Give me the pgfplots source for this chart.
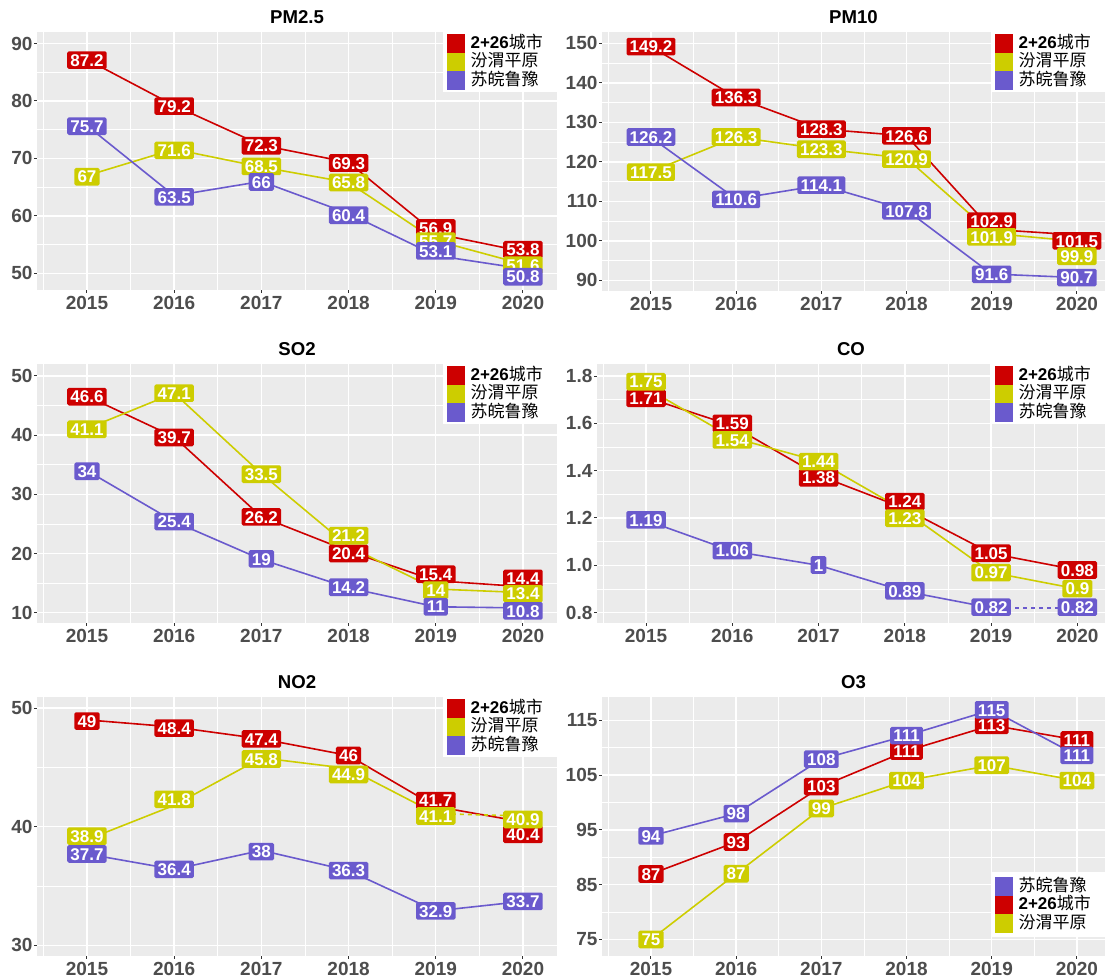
\documentclass[border=0pt]{standalone}
\usepackage{pgfplots}
\pgfplotsset{compat=1.18}
\usepackage{pgfplotstable}
\usepackage{fontspec}
\setmainfont{Liberation Sans}
\newfontfamily\cjk{Noto Sans CJK SC}
\definecolor{red3}{HTML}{CD0000}
\definecolor{yellow3}{HTML}{CDCD00}
\definecolor{slate}{HTML}{6A5ACD}
\definecolor{bg}{HTML}{EBEBEB}
\definecolor{tickgray}{HTML}{4D4D4D}
\definecolor{gray20}{HTML}{333333}

% columns: x (0=2015 ... 5=2020), y = value, ly = label position, lab = label text
\pgfplotstableread{
x y ly lab
0 87.2 87.1 87.2
1 79.2 79.1 79.2
2 72.3 72.2 72.3
3 69.3 69.2 69.3
4 56.9 57.9 56.9
5 53.8 54.1 53.8
}\pmR
\pgfplotstableread{
x y ly lab
0 67.0 66.8 67
1 71.6 71.4 71.6
2 68.5 68.6 68.5
3 65.8 65.8 65.8
4 55.7 55.6 55.7
5 51.6 51.4 51.6
}\pmY
\pgfplotstableread{
x y ly lab
0 75.7 75.6 75.7
1 63.5 63.3 63.5
2 66.0 65.9 66
3 60.4 60.1 60.4
4 53.1 53.9 53.1
5 50.8 49.4 50.8
}\pmP

\pgfplotstableread{
x y ly lab
0 149.2 149.2 149.2
1 136.3 136.3 136.3
2 128.3 128.3 128.3
3 126.6 126.6 126.6
4 102.9 105.0 102.9
5 101.5 100.0 101.5
}\tenR
\pgfplotstableread{
x y ly lab
0 117.5 117.4 117.5
1 126.3 126.3 126.3
2 123.3 123.2 123.3
3 120.9 120.7 120.9
4 101.9 101.0 101.9
5 99.9 96.1 99.9
}\tenY
\pgfplotstableread{
x y ly lab
0 126.2 126.3 126.2
1 110.6 110.5 110.6
2 114.1 114.1 114.1
3 107.8 107.6 107.8
4 91.6 91.5 91.6
5 90.7 90.7 90.7
}\tenP

\pgfplotstableread{
x y ly lab
0 46.6 46.5 46.6
1 39.7 39.6 39.7
2 26.2 26.2 26.2
3 20.4 20.0 20.4
4 15.4 16.5 15.4
5 14.4 15.8 14.4
}\soR
\pgfplotstableread{
x y ly lab
0 41.1 41.0 41.1
1 47.1 47.1 47.1
2 33.5 33.4 33.5
3 21.2 23.0 21.2
4 14.0 13.8 14
5 13.4 13.2 13.4
}\soY
\pgfplotstableread{
x y ly lab
0 34.0 33.9 34
1 25.4 25.4 25.4
2 19.0 19.1 19
3 14.2 14.3 14.2
4 11.0 11.0 11
5 10.8 10.3 10.8
}\soP

\pgfplotstableread{
x y ly lab
0 1.71 1.706 1.71
1 1.59 1.600 1.59
2 1.38 1.370 1.38
3 1.24 1.269 1.24
4 1.05 1.051 1.05
5 0.98 0.980 0.98
}\coR
\pgfplotstableread{
x y ly lab
0 1.75 1.776 1.75
1 1.54 1.530 1.54
2 1.44 1.438 1.44
3 1.23 1.199 1.23
4 0.97 0.969 0.97
5 0.90 0.901 0.9
}\coY
\pgfplotstableread{
x y ly lab
0 1.19 1.192 1.19
1 1.06 1.062 1.06
2 1.00 1.001 1
3 0.89 0.892 0.89
4 0.82 0.823 0.82
5 0.82 0.823 0.82
}\coP

\pgfplotstableread{
x y ly lab
0 49.0 48.9 49
1 48.4 48.3 48.4
2 47.4 47.4 47.4
3 46.0 46.0 46
4 41.7 42.2 41.7
5 40.4 39.35 40.4
}\noR
\pgfplotstableread{
x y ly lab
0 38.9 39.2 38.9
1 41.8 42.3 41.8
2 45.8 45.7 45.8
3 44.9 44.4 44.9
4 41.1 40.9 41.1
5 40.9 40.6 40.9
}\noY
\pgfplotstableread{
x y ly lab
0 37.7 37.7 37.7
1 36.4 36.4 36.4
2 38.0 37.9 38
3 36.3 36.3 36.3
4 32.9 32.9 32.9
5 33.7 33.7 33.7
}\noP

\pgfplotstableread{
x y ly lab
0 86.95 86.95 87
1 92.8 92.8 93
2 102.9 102.9 103
3 109.4 109.4 111
4 114.1 114.1 113
5 111.4 111.4 111
}\oR
\pgfplotstableread{
x y ly lab
0 75.0 75.0 75
1 87.0 87.0 87
2 98.9 98.9 99
3 104.0 104.0 104
4 106.8 106.8 107
5 104.0 104.0 104
}\oY
\pgfplotstableread{
x y ly lab
0 93.9 93.9 94
1 97.97 97.97 98
2 107.9 107.9 108
3 112.2 112.2 111
4 116.9 116.9 115
5 108.6 108.6 111
}\oP

\newcommand{\legbox}[1]{\raisebox{-3.2pt}[0pt][0pt]{\makebox[43pt][l]{#1}}}
\newcommand{\legR}{\legbox{{\bfseries 2+26}{\cjk 城市}}}
\newcommand{\legY}{\legbox{\cjk 汾渭平原}}
\newcommand{\legP}{\legbox{\cjk 苏皖鲁豫}}

\pgfplotsset{
 panel/.style={
  scale only axis, anchor=south west,
  axis background/.style={fill=bg},
  axis line style={draw=none},
  clip=false,
  xtick={0,1,2,3,4,5}, xticklabels={2015,2016,2017,2018,2019,2020},
  minor xtick={-0.5,0.5,1.5,2.5,3.5,4.5},
  grid=both,
  major grid style={white, line width=0.7pt},
  minor grid style={white, line width=0.35pt},
  tick align=outside, tick pos=left,
  major tick length=1.3pt, minor tick length=0pt,
  tick style={draw=gray20, line width=0.5pt},
  tick label style={font=\bfseries\fontsize{9.5}{11}\selectfont, text=tickgray},
  xticklabel style={inner ysep=1.5pt},
  yticklabel style={inner xsep=0.8pt},
  every axis title/.style={at={(0.5,1)}, anchor=base, yshift=4.35pt, font=\bfseries\fontsize{9.3}{11}\selectfont},
  legend style={at={(1,1)}, anchor=north east, fill=white, draw=none,
    inner xsep=0pt, inner ysep=1pt, row sep=0pt, column sep=3pt,
    font=\fontsize{8.5}{9}\selectfont, cells={anchor=west, inner sep=0pt},
    nodes={inner sep=0pt}},
 },
 ln/.style={line width=0.8pt, mark=none, forget plot},
 lb/.style={only marks, mark=*, mark size=0pt, mark options={draw=none, fill=none}, forget plot,
   point meta=explicit symbolic, nodes near coords, nodes near coords align={center},
   every node near coord/.append style={anchor=center, fill=#1, text=white,
     font=\bfseries\fontsize{8.5}{9}\selectfont, inner xsep=1.6pt, inner ysep=1.3pt,
     text height=6.2pt, text depth=0pt, rounded corners=0.8pt}},
 sqR/.style={legend image code/.code={\path (0pt,0pt); \fill[red3] (2pt,-4.4pt) rectangle (10.5pt,4.4pt);}},
 sqY/.style={legend image code/.code={\path (0pt,0pt); \fill[yellow3] (2pt,-4.4pt) rectangle (10.5pt,4.4pt);}},
 sqP/.style={legend image code/.code={\path (0pt,0pt); \fill[slate] (2pt,-4.4pt) rectangle (10.5pt,4.4pt);}},
}

\begin{document}
\begin{tikzpicture}
\useasboundingbox (0,0) rectangle (552.5pt,489pt);

% PM2.5
\begin{axis}[panel, at={(18.5pt,344pt)}, width=260pt, height=129pt,
  xmin=-0.573, xmax=5.39, ymin=47.1, ymax=92,
  ytick={50,60,70,80,90}, yticklabels={50,60,70,80,90}, minor ytick={55,65,75,85},
  title={PM2.5}]
\addplot[ln, red3] table[x=x,y=y] {\pmR};
\addplot[ln, yellow3] table[x=x,y=y] {\pmY};
\addplot[ln, slate] table[x=x,y=y] {\pmP};
\addplot[lb=red3] table[x=x,y=ly,meta=lab] {\pmR};
\addplot[lb=yellow3] table[x=x,y=ly,meta=lab] {\pmY};
\addplot[lb=slate] table[x=x,y=ly,meta=lab] {\pmP};
\addlegendimage{sqR}\addlegendentry{\legR}
\addlegendimage{sqY}\addlegendentry{\legY}
\addlegendimage{sqP}\addlegendentry{\legP}
\end{axis}

% PM10
\begin{axis}[panel, at={(301pt,343.5pt)}, width=251.5pt, height=129.5pt,
  xmin=-0.575, xmax=5.33, ymin=87.3, ymax=152.9,
  ytick={90,100,110,120,130,140,150}, yticklabels={90,100,110,120,130,140,150},
  minor ytick={95,105,115,125,135,145},
  title={PM10}]
\addplot[ln, red3] table[x=x,y=y] {\tenR};
\addplot[ln, yellow3] table[x=x,y=y] {\tenY};
\addplot[ln, slate] table[x=x,y=y] {\tenP};
\addplot[lb=red3] table[x=x,y=ly,meta=lab] {\tenR};
\addplot[lb=yellow3] table[x=x,y=ly,meta=lab] {\tenY};
\addplot[lb=slate] table[x=x,y=ly,meta=lab] {\tenP};
\addlegendimage{sqR}\addlegendentry{\legR}
\addlegendimage{sqY}\addlegendentry{\legY}
\addlegendimage{sqP}\addlegendentry{\legP}
\end{axis}

% SO2
\begin{axis}[panel, at={(18.5pt,177.5pt)}, width=260pt, height=129.5pt,
  xmin=-0.573, xmax=5.39, ymin=8.26, ymax=52.03,
  ytick={10,20,30,40,50}, yticklabels={10,20,30,40,50}, minor ytick={15,25,35,45},
  title={SO2}]
\addplot[ln, red3] table[x=x,y=y] {\soR};
\addplot[ln, yellow3] table[x=x,y=y] {\soY};
\addplot[ln, slate] table[x=x,y=y] {\soP};
\addplot[lb=red3] table[x=x,y=ly,meta=lab] {\soR};
\addplot[lb=yellow3] table[x=x,y=ly,meta=lab] {\soY};
\addplot[lb=slate] table[x=x,y=ly,meta=lab] {\soP};
\addlegendimage{sqR}\addlegendentry{\legR}
\addlegendimage{sqY}\addlegendentry{\legY}
\addlegendimage{sqP}\addlegendentry{\legP}
\end{axis}

% CO
\begin{axis}[panel, at={(298.5pt,177.5pt)}, width=254pt, height=129.5pt,
  xmin=-0.568, xmax=5.32, ymin=0.756, ymax=1.851,
  ytick={0.8,1.0,1.2,1.4,1.6,1.8}, yticklabels={0.8,1.0,1.2,1.4,1.6,1.8},
  minor ytick={0.9,1.1,1.3,1.5,1.7},
  title={CO}]
\addplot[ln, red3] table[x=x,y=y] {\coR};
\addplot[ln, yellow3] table[x=x,y=y] {\coY};
\addplot[ln, slate, restrict x to domain=0:4] table[x=x,y=y] {\coP};
\addplot[ln, slate, dash pattern=on 2pt off 2pt, restrict x to domain=4:5] table[x=x,y=y] {\coP};
\addplot[lb=red3] table[x=x,y=ly,meta=lab] {\coR};
\addplot[lb=yellow3] table[x=x,y=ly,meta=lab] {\coY};
\addplot[lb=slate] table[x=x,y=ly,meta=lab] {\coP};
\addlegendimage{sqR}\addlegendentry{\legR}
\addlegendimage{sqY}\addlegendentry{\legY}
\addlegendimage{sqP}\addlegendentry{\legP}
\end{axis}

% NO2
\begin{axis}[panel, at={(18.5pt,11pt)}, width=260pt, height=129.5pt,
  xmin=-0.573, xmax=5.39, ymin=29.1, ymax=50.93,
  ytick={30,40,50}, yticklabels={30,40,50}, minor ytick={35,45},
  title={NO2}]
\addplot[ln, red3] table[x=x,y=y] {\noR};
\addplot[ln, yellow3, restrict x to domain=0:4] table[x=x,y=y] {\noY};
\addplot[ln, yellow3, dash pattern=on 2pt off 2pt, restrict x to domain=4:5] table[x=x,y=y] {\noY};
\addplot[ln, slate] table[x=x,y=y] {\noP};
\addplot[lb=red3] table[x=x,y=ly,meta=lab] {\noR};
\addplot[lb=yellow3] table[x=x,y=ly,meta=lab] {\noY};
\addplot[lb=slate] table[x=x,y=ly,meta=lab] {\noP};
\addlegendimage{sqR}\addlegendentry{\legR}
\addlegendimage{sqY}\addlegendentry{\legY}
\addlegendimage{sqP}\addlegendentry{\legP}
\end{axis}

% O3
\begin{axis}[panel, at={(301pt,11pt)}, width=251.5pt, height=129.5pt,
  xmin=-0.575, xmax=5.33, ymin=72.0, ymax=119.25,
  ytick={75,85,95,105,115}, yticklabels={75,85,95,105,115}, minor ytick={80,90,100,110},
  title={O3},
  legend style={at={(1,0.07)}, anchor=south east, inner ysep=2.5pt}]
\addplot[ln, red3] table[x=x,y=y] {\oR};
\addplot[ln, yellow3] table[x=x,y=y] {\oY};
\addplot[ln, slate] table[x=x,y=y] {\oP};
\addplot[lb=red3] table[x=x,y=ly,meta=lab] {\oR};
\addplot[lb=yellow3] table[x=x,y=ly,meta=lab] {\oY};
\addplot[lb=slate] table[x=x,y=ly,meta=lab] {\oP};
\addlegendimage{sqP}\addlegendentry{\legP}
\addlegendimage{sqR}\addlegendentry{\legR}
\addlegendimage{sqY}\addlegendentry{\legY}
\end{axis}
\end{tikzpicture}
\end{document}
